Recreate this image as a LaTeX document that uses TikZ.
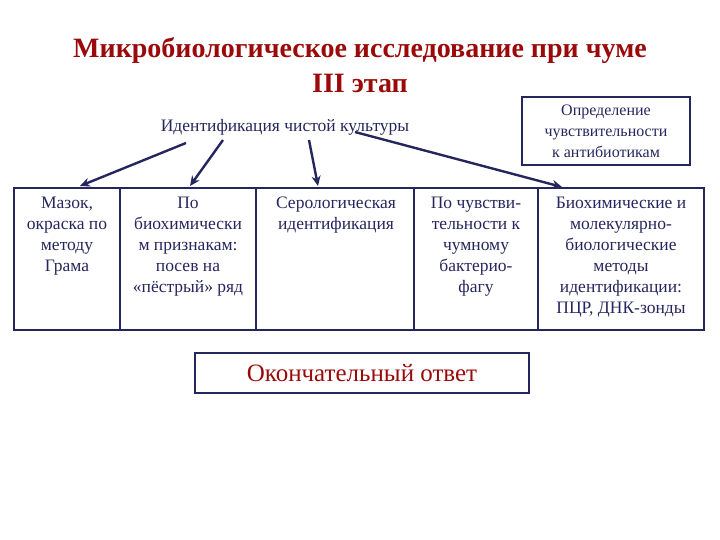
\documentclass[tikz,border=0pt]{standalone}
\usepackage{fontspec}
\setmainfont{Liberation Serif}
\usetikzlibrary{arrows.meta}
\begin{document}
\begin{tikzpicture}[x=1pt,y=-1pt,
  txt/.style={text=navy,font=\fontsize{17.5}{21}\selectfont,align=center,inner sep=0pt},
  arr/.style={draw=navy,line width=2.4pt,-{Stealth[length=10pt,width=9pt]}},
  frame/.style={draw=navy,line width=1.8pt}]
\definecolor{navy}{HTML}{26265E}
\definecolor{maroon}{HTML}{9A0A0A}
\useasboundingbox (0,0) rectangle (720,540);
\node[font=\bfseries\fontsize{28}{30}\selectfont,text=maroon] (t1) at (360,51) {Микробиологическое исследование при чуме};
\node[font=\bfseries\fontsize{28}{30}\selectfont,text=maroon] (t2) at (360,83) {III этап};
\node[txt] (id) at (285,127) {Идентификация чистой культуры};
\node[frame,minimum width=168pt,minimum height=68pt] (sens) at (606,131) {};
\node[txt,font=\fontsize{16}{21}\selectfont] (senst) at (sens) {Определение\\чувствительности\\к антибиотикам};
\draw[frame] (14,188) rectangle (704,330);
\foreach \x in {120,256,414,538} \draw[frame] (\x,188) -- (\x,330);
\coordinate (b1) at (80,186);
\coordinate (b2) at (190,186);
\coordinate (b3) at (318,186);
\coordinate (b4) at (562,187);
\coordinate (a1) at (186,143);
\coordinate (a2) at (223,140);
\coordinate (a3) at (309,140);
\coordinate (a4) at (355,132);
\draw[arr] (a1) -- (b1);
\draw[arr] (a2) -- (b2);
\draw[arr] (a3) -- (b3);
\draw[arr] (a4) -- (b4);
\node[txt,anchor=north] (c1) at (67,197) {Мазок,\\окраска по\\методу\\Грама};
\node[txt,anchor=north] (c2) at (188,197) {По\\биохимически\\м признакам:\\посев на\\«пёстрый» ряд};
\node[txt,anchor=north] (c3) at (336,197) {Серологическая\\идентификация};
\node[txt,anchor=north] (c4) at (476,197) {По чувстви-\\тельности к\\чумному\\бактерио-\\фагу};
\node[txt,anchor=north] (c5) at (621,197) {Биохимические и\\молекулярно-\\биологические\\методы\\идентификации:\\ПЦР, ДНК-зонды};
\node[frame,minimum width=334pt,minimum height=40pt] (fin) at (362,373) {};
\node[text=maroon,font=\fontsize{25}{28}\selectfont] (fint) at (fin) {Окончательный ответ};
\end{tikzpicture}
\end{document}
